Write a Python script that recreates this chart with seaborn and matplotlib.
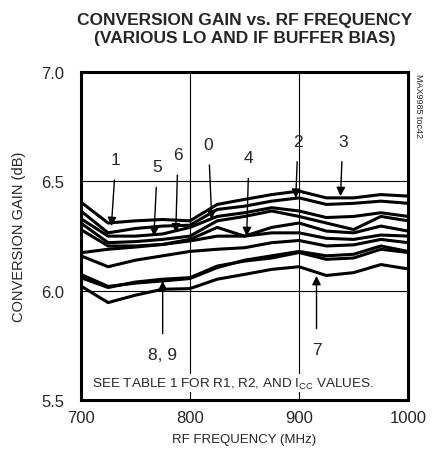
import numpy as np
import pandas as pd
import matplotlib
matplotlib.use("Agg")
import matplotlib.pyplot as plt
import seaborn as sns

sns.set_style("white")
plt.rcParams['font.family'] = ['Liberation Sans Narrow', 'Liberation Sans', 'DejaVu Sans']
plt.rcParams['mathtext.fontset'] = 'custom'
plt.rcParams['mathtext.rm'] = 'Liberation Sans'

# RF frequency points (MHz)
freq = [700, 725, 750, 775, 800, 825, 850, 875, 900, 925, 950, 975, 1000]

# conversion gain (dB) for each bias setting
gain_3 = [6.406, 6.31, 6.32, 6.326, 6.32, 6.395, 6.418, 6.44, 6.456, 6.425, 6.425, 6.44, 6.433]
gain_2 = [6.365, 6.265, 6.285, 6.296, 6.30, 6.372, 6.387, 6.41, 6.425, 6.395, 6.40, 6.41, 6.40]
gain_0 = [6.33, 6.25, 6.25, 6.26, 6.29, 6.34, 6.357, 6.38, 6.365, 6.335, 6.34, 6.357, 6.34]
gain_1 = [6.31, 6.22, 6.225, 6.235, 6.25, 6.32, 6.34, 6.365, 6.34, 6.31, 6.28, 6.34, 6.32]
gain_4 = [6.28, 6.205, 6.205, 6.212, 6.235, 6.29, 6.25, 6.29, 6.31, 6.273, 6.265, 6.296, 6.273]
gain_6 = [6.174, 6.19, 6.20, 6.212, 6.228, 6.25, 6.25, 6.265, 6.265, 6.24, 6.235, 6.255, 6.25]
gain_5 = [6.16, 6.11, 6.14, 6.16, 6.18, 6.19, 6.197, 6.22, 6.23, 6.205, 6.21, 6.235, 6.22]
gain_8 = [6.075, 6.02, 6.035, 6.045, 6.056, 6.106, 6.14, 6.16, 6.18, 6.16, 6.167, 6.205, 6.18]
gain_9 = [6.06, 6.015, 6.04, 6.053, 6.06, 6.113, 6.136, 6.15, 6.175, 6.144, 6.15, 6.19, 6.175]
gain_7 = [6.022, 5.946, 5.98, 6.007, 6.01, 6.053, 6.075, 6.098, 6.11, 6.07, 6.083, 6.12, 6.10]

curves = {"3": gain_3, "2": gain_2, "0": gain_0, "1": gain_1, "4": gain_4,
          "6": gain_6, "5": gain_5, "8": gain_8, "9": gain_9, "7": gain_7}

# curve labels: (text, label x, label y, arrow tip x, arrow tip y)
labels = [("1", 732, 6.60, 728, 6.296),
          ("5", 770, 6.567, 767, 6.25),
          ("6", 789, 6.623, 787, 6.267),
          ("0", 817, 6.669, 820, 6.327),
          ("4", 854, 6.608, 852, 6.25),
          ("2", 899, 6.684, 897, 6.425),
          ("3", 940, 6.684, 938, 6.433),
          ("7", 916, 5.733, 916, 6.068),
          ("8, 9", 775, 5.71, 775, 6.045)]

df = pd.DataFrame([(f, g, k) for k, v in curves.items() for f, g in zip(freq, v)],
                  columns=["freq", "gain", "bias"])

fig = plt.figure(figsize=(4.37, 4.60), dpi=100)
ax = fig.add_axes([0.185, 0.128, 0.749, 0.713])

for k in curves:
    sns.lineplot(data=df[df["bias"] == k], x="freq", y="gain", color="black",
                 linewidth=2.2, ax=ax, legend=False, solid_joinstyle="round")

ax.set_xlim(700, 1000)
ax.set_ylim(5.5, 7.0)
ax.set_xticks([700, 800, 900, 1000])
ax.set_yticks([5.5, 6.0, 6.5, 7.0])
ax.set_yticklabels(["5.5", "6.0", "6.5", "7.0"])
ax.tick_params(length=0, labelsize=12)
ax.tick_params(axis="x", pad=7)
ax.tick_params(axis="y", pad=12)
for v in [800, 900]:
    ax.axvline(v, color="black", linewidth=0.8, zorder=0)
for v in [6.0, 6.5]:
    ax.axhline(v, color="black", linewidth=0.8, zorder=0)
for s in ax.spines.values():
    s.set_linewidth(2.2)
    s.set_color("black")

ax.set_xlabel("RF FREQUENCY (MHz)", fontsize=9.5, labelpad=6)
ax.set_ylabel("CONVERSION GAIN (dB)", fontsize=10.5, labelpad=11)

for txt, lx, ly, tx, ty in labels:
    ax.annotate(txt, xy=(tx, ty), xytext=(lx, ly), ha="center", va="center",
                fontsize=12.5,
                arrowprops=dict(arrowstyle="-|>", color="black", lw=1.0,
                                mutation_scale=13, shrinkA=7, shrinkB=0))

ax.text(710, 5.578, r"SEE TABLE 1 FOR R1, R2, AND I$_{\mathrm{CC}}$ VALUES.",
        fontsize=9.7, ha="left", va="center",
        bbox=dict(facecolor="white", edgecolor="none", pad=1))

fig.text(0.957, 0.84, "MAX9985 toc42", rotation=270, fontsize=6.5,
         ha="center", va="top")

fig.text(0.56, 0.972, "CONVERSION GAIN vs. RF FREQUENCY\n(VARIOUS LO AND IF BUFFER BIAS)",
         fontsize=12.5, fontweight="bold", ha="center", va="top", linespacing=1.3)

fig.savefig("out.png", dpi=100)
